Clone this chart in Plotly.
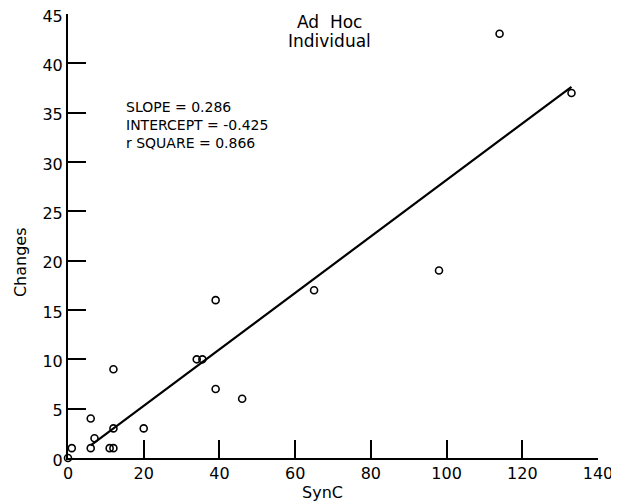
import plotly.graph_objects as go

# Data
sync = [0, 1, 6, 6, 7, 11, 12, 12, 12, 20, 34, 35.5, 39, 39, 46, 65, 98, 114, 133]
changes = [0, 1, 4, 1, 2, 1, 1, 3, 9, 3, 10, 10, 16, 7, 6, 17, 19, 43, 37]

slope = 0.286
intercept = -0.425
r_square = 0.866
fit_x = [6, 133]
fit_y = [slope * x + intercept for x in fit_x]

x_ticks = [0, 20, 40, 60, 80, 100, 120, 140]
y_ticks = [0, 5, 10, 15, 20, 25, 30, 35, 40, 45]

font = "DejaVu Sans"

fig = go.Figure()
fig.add_trace(go.Scatter(
    x=fit_x, y=fit_y, mode="lines",
    line=dict(color="black", width=2.2),
    showlegend=False, hoverinfo="skip",
))
fig.add_trace(go.Scatter(
    x=sync, y=changes, mode="markers",
    marker=dict(symbol="circle-open", size=7, color="black",
                line=dict(width=1.6, color="black")),
    cliponaxis=False, showlegend=False,
))

# Panel title (two lines)
fig.add_annotation(
    x=0.494, y=0.982, xref="paper", yref="paper", xanchor="center", yanchor="middle",
    text="Ad  Hoc", showarrow=False,
    font=dict(family=font, size=17, color="black"),
)
fig.add_annotation(
    x=0.494, y=0.939, xref="paper", yref="paper", xanchor="center", yanchor="middle",
    text="Individual", showarrow=False,
    font=dict(family=font, size=17, color="black"),
)
# Regression statistics
fig.add_annotation(
    x=0.105, y=0.813, xref="paper", yref="paper", xanchor="left", yanchor="top",
    text=f"SLOPE = {slope}<br>INTERCEPT = {intercept}<br>r SQUARE = {r_square}",
    showarrow=False, align="left",
    font=dict(family=font, size=14, color="black"),
)
# Axis titles
fig.add_annotation(
    x=0.481, y=-0.078, xref="paper", yref="paper", xanchor="center", yanchor="middle",
    text="SynC", showarrow=False,
    font=dict(family=font, size=16, color="black"),
)
fig.add_annotation(
    x=-0.09, y=0.442, xref="paper", yref="paper", xanchor="center", yanchor="middle",
    text="Changes", showarrow=False, textangle=-90,
    font=dict(family=font, size=16, color="black"),
)

# Page body adds an 8px margin, so the figure is 8px smaller and offsets compensated.
fig.update_layout(
    width=611, height=495,
    margin=dict(l=60, r=21, t=6, b=45),
    paper_bgcolor="white", plot_bgcolor="white",
    font=dict(family=font, size=14, color="black"),
    xaxis=dict(
        range=[0, 140], tickvals=x_ticks, ticktext=[str(v) for v in x_ticks],
        showline=True, linecolor="black", linewidth=2,
        ticks="inside", ticklen=18, tickwidth=2, tickcolor="black",
        showgrid=False, zeroline=False, automargin=False,
        ticklabeloverflow="allow",
        tickfont=dict(size=16, color="black"),
    ),
    yaxis=dict(
        range=[0, 45], tickvals=y_ticks, ticktext=[str(v) for v in y_ticks],
        showline=True, linecolor="black", linewidth=2,
        ticks="inside", ticklen=18, tickwidth=2, tickcolor="black",
        showgrid=False, zeroline=False, automargin=False,
        ticklabeloverflow="allow", ticklabelshift=2,
        tickfont=dict(size=16, color="black"),
    ),
)

fig.write_html("out.html")
